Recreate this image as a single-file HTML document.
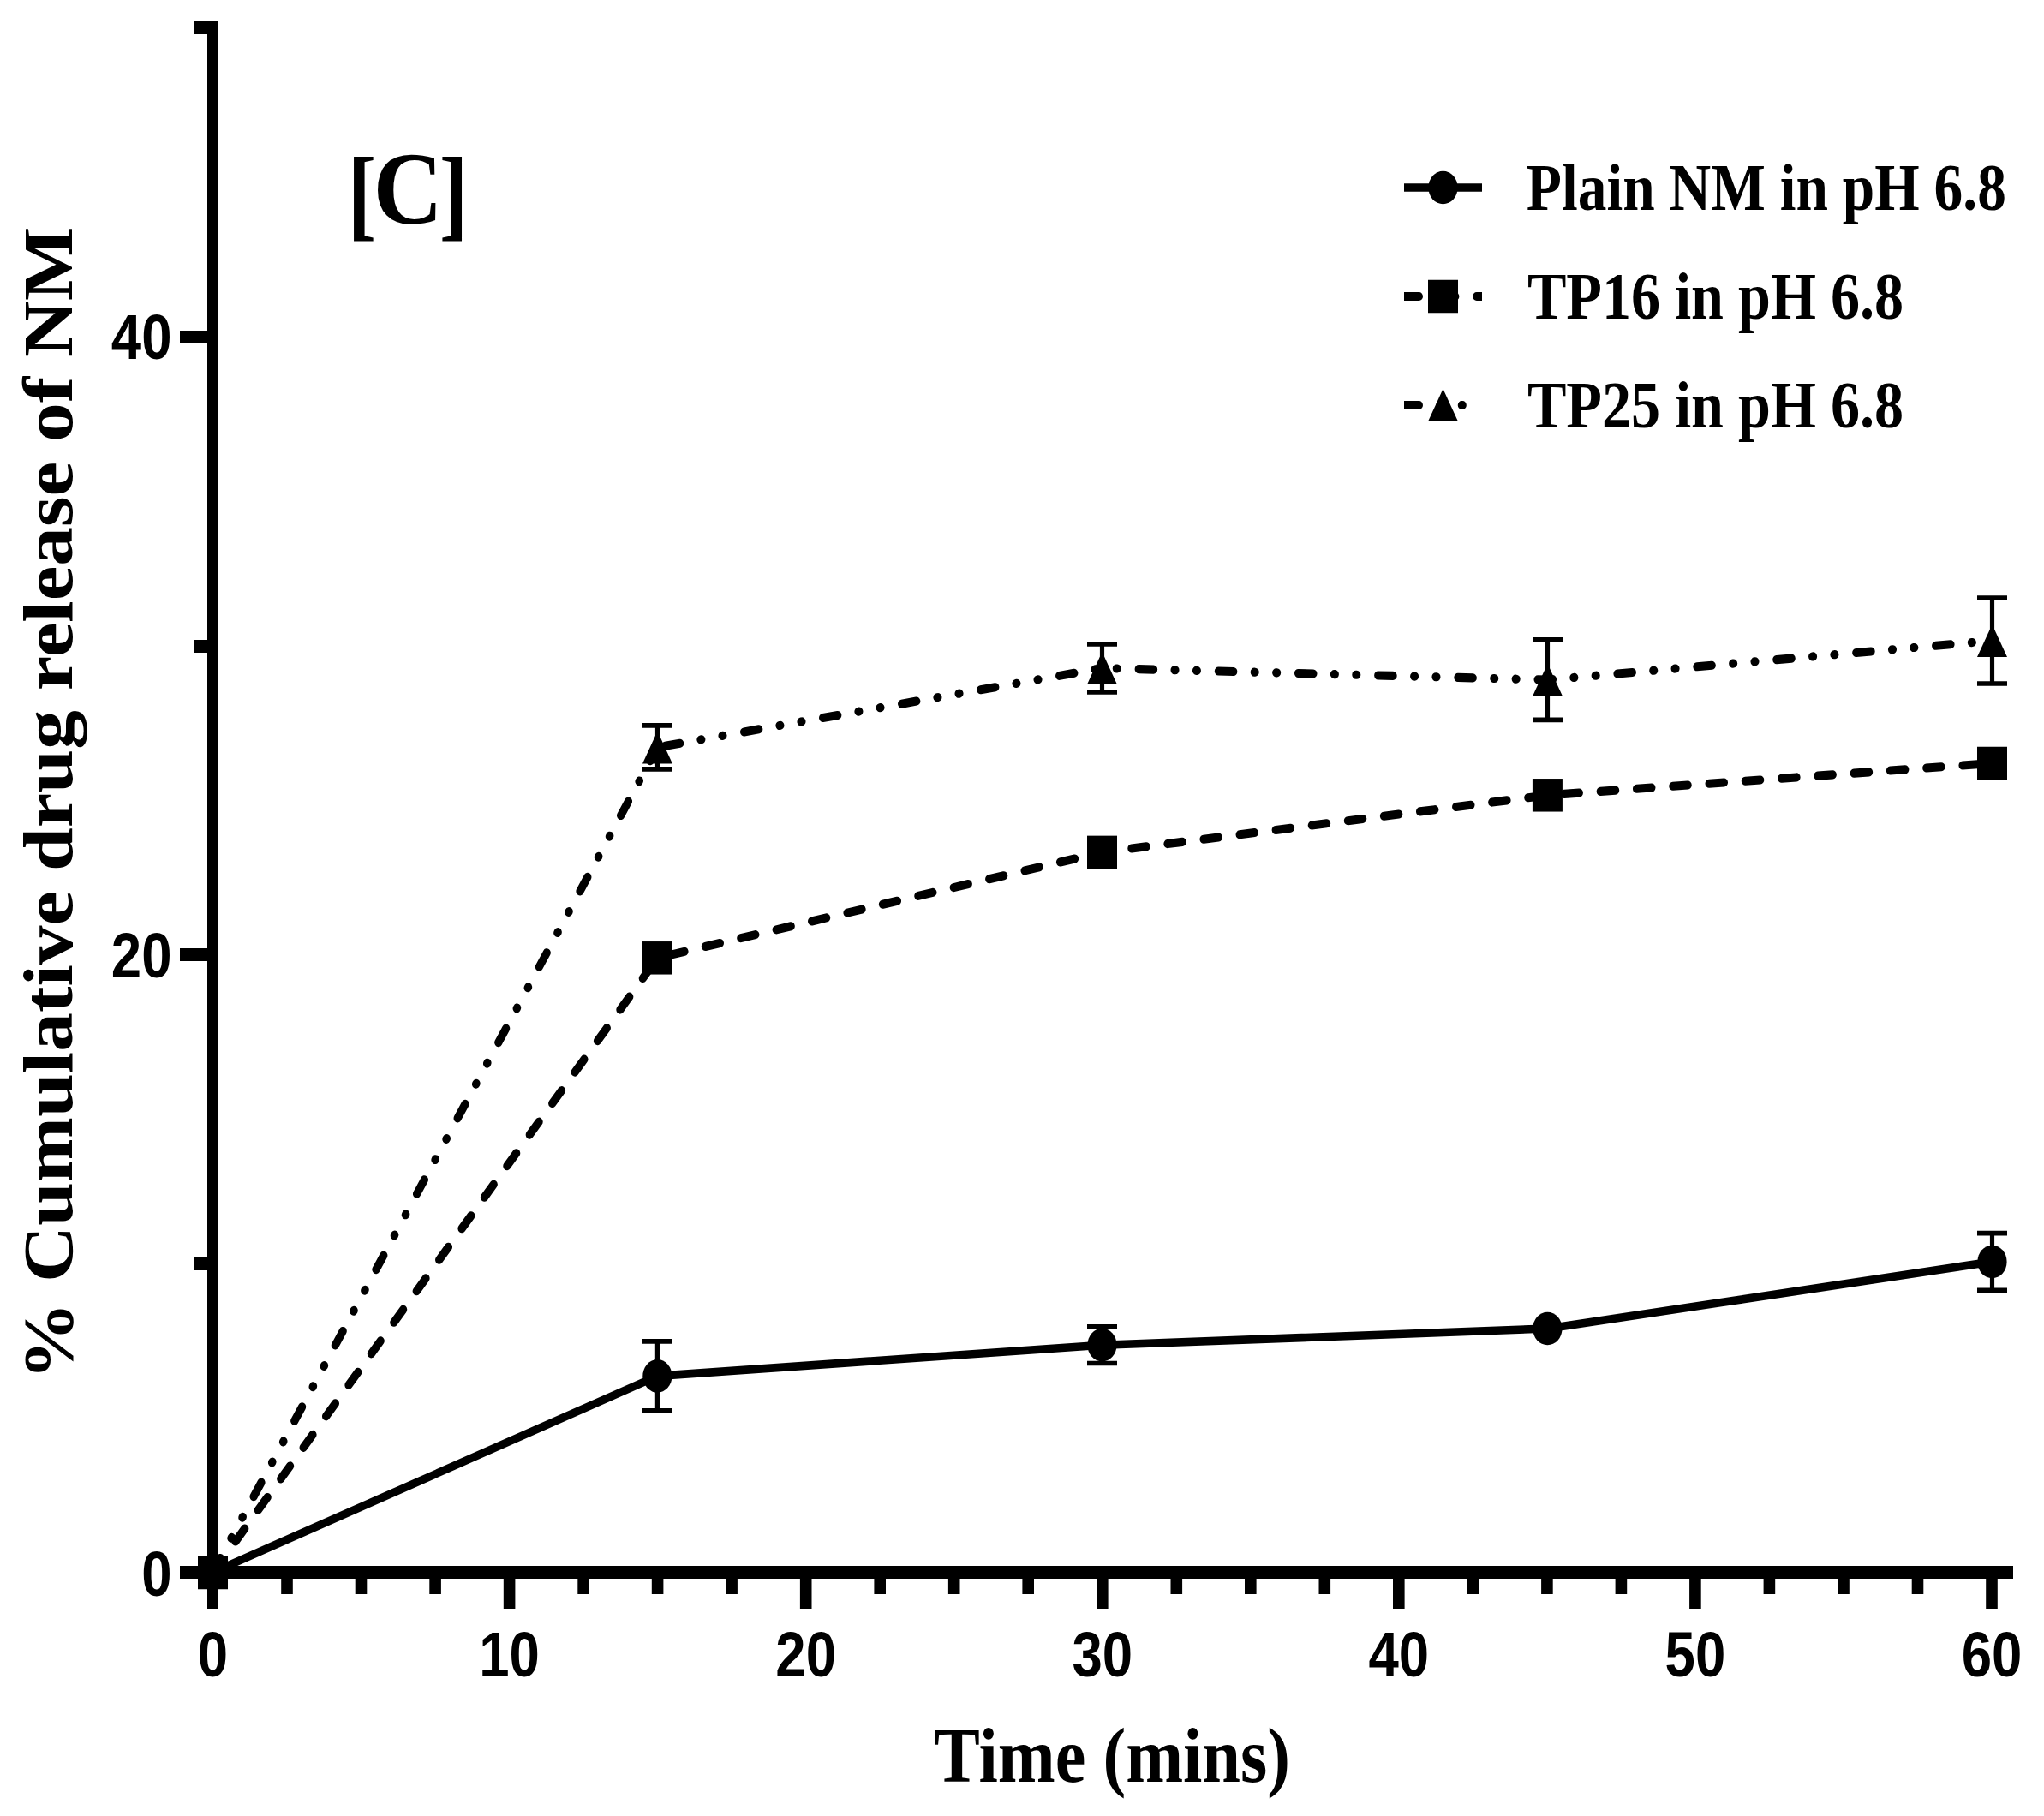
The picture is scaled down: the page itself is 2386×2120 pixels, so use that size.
<!DOCTYPE html>
<html lang="en"><head><meta charset="utf-8"><title>Cumulative drug release of NM</title>
<style>html,body{margin:0;padding:0;background:#fff}svg{display:block}.s{font-family:"Liberation Serif","Times New Roman",serif;font-weight:bold;fill:#000}.dl{stroke-linecap:round}.a{font-family:"Liberation Sans",Arial,sans-serif;font-weight:bold;fill:#000}</style></head><body>
<svg width="2386" height="2120" viewBox="0 0 2386 2120">
<rect width="2386" height="2120" fill="#fff"/>
<g fill="#000" shape-rendering="crispEdges">
<rect x="242" y="25" width="13" height="1853"/>
<rect x="210" y="1828" width="2140" height="15"/>
<rect x="210" y="386" width="32" height="15"/>
<rect x="210" y="1107" width="32" height="15"/>
<rect x="226" y="25" width="16" height="15"/>
<rect x="226" y="747" width="16" height="15"/>
<rect x="226" y="1468" width="16" height="15"/>
<rect x="328.2" y="1843" width="13.6" height="18" shape-rendering="auto"/>
<rect x="414.7" y="1843" width="13.6" height="18" shape-rendering="auto"/>
<rect x="501.3" y="1843" width="13.6" height="18" shape-rendering="auto"/>
<rect x="587.8" y="1843" width="13.6" height="35" shape-rendering="auto"/>
<rect x="674.3" y="1843" width="13.6" height="18" shape-rendering="auto"/>
<rect x="760.8" y="1843" width="13.6" height="18" shape-rendering="auto"/>
<rect x="847.3" y="1843" width="13.6" height="18" shape-rendering="auto"/>
<rect x="933.9" y="1843" width="13.6" height="35" shape-rendering="auto"/>
<rect x="1020.4" y="1843" width="13.6" height="18" shape-rendering="auto"/>
<rect x="1106.9" y="1843" width="13.6" height="18" shape-rendering="auto"/>
<rect x="1193.4" y="1843" width="13.6" height="18" shape-rendering="auto"/>
<rect x="1280.0" y="1843" width="13.6" height="35" shape-rendering="auto"/>
<rect x="1366.5" y="1843" width="13.6" height="18" shape-rendering="auto"/>
<rect x="1453.0" y="1843" width="13.6" height="18" shape-rendering="auto"/>
<rect x="1539.5" y="1843" width="13.6" height="18" shape-rendering="auto"/>
<rect x="1626.0" y="1843" width="13.6" height="35" shape-rendering="auto"/>
<rect x="1712.6" y="1843" width="13.6" height="18" shape-rendering="auto"/>
<rect x="1799.1" y="1843" width="13.6" height="18" shape-rendering="auto"/>
<rect x="1885.6" y="1843" width="13.6" height="18" shape-rendering="auto"/>
<rect x="1972.1" y="1843" width="13.6" height="35" shape-rendering="auto"/>
<rect x="2058.6" y="1843" width="13.6" height="18" shape-rendering="auto"/>
<rect x="2145.2" y="1843" width="13.6" height="18" shape-rendering="auto"/>
<rect x="2231.7" y="1843" width="13.6" height="18" shape-rendering="auto"/>
<rect x="2318.2" y="1843" width="13.6" height="35" shape-rendering="auto"/>
</g>
<g transform="scale(0.907,1)" fill="#000" stroke="#000">
<path d="M846.09 1565.90V1646.90M826.79 1565.90H865.38M826.79 1646.90H865.38" fill="none" stroke-width="5.7"/>
<path d="M1418.41 1548.90V1591.50M1399.12 1548.90H1437.71M1399.12 1591.50H1437.71" fill="none" stroke-width="5.7"/>
<path d="M2563.95 1439.60V1506.40M2544.65 1439.60H2583.24M2544.65 1506.40H2583.24" fill="none" stroke-width="5.7"/>
<path d="M846.20 846.90V897.90M826.90 846.90H865.49M826.90 897.90H865.49" fill="none" stroke-width="5.7"/>
<path d="M1418.41 752.00V808.00M1399.12 752.00H1437.71M1399.12 808.00H1437.71" fill="none" stroke-width="5.7"/>
<path d="M1991.73 746.90V840.40M1972.44 746.90H2011.03M1972.44 840.40H2011.03" fill="none" stroke-width="5.7"/>
<path d="M2563.95 698.00V798.00M2544.65 698.00H2583.24M2544.65 798.00H2583.24" fill="none" stroke-width="5.7"/>
<polyline points="273.98,1835.50 846.09,1606.40 1418.41,1570.20 1991.62,1551.00 2563.95,1473.00" fill="none" stroke-width="9.6" stroke-linejoin="round"/>
<polyline points="273.98,1836.00 846.20,1118.30 1418.41,994.90 1991.62,928.30 2563.95,891.00" fill="none" stroke-width="10.1" stroke-linejoin="round" stroke-dasharray="19.2 27.510" class="dl"/>
<polyline points="273.98,1835.50 846.20,872.40 1418.41,780.00 1991.73,793.65 2563.95,748.00" fill="none" stroke-width="10.1" stroke-linejoin="round" stroke-dasharray="19.2 27.010 1 27.026 1 27.526" class="dl"/>
<ellipse cx="273.98" cy="1835.50" rx="18.85" ry="19.3" stroke="none"/>
<ellipse cx="846.09" cy="1606.40" rx="18.85" ry="19.3" stroke="none"/>
<ellipse cx="1418.41" cy="1570.20" rx="18.85" ry="19.3" stroke="none"/>
<ellipse cx="1991.62" cy="1551.00" rx="18.85" ry="19.3" stroke="none"/>
<ellipse cx="2563.95" cy="1473.00" rx="18.85" ry="19.3" stroke="none"/>
<rect x="254.69" y="1816.75" width="38.59" height="38.5" stroke="none"/>
<rect x="826.90" y="1099.05" width="38.59" height="38.5" stroke="none"/>
<rect x="1399.12" y="975.65" width="38.59" height="38.5" stroke="none"/>
<rect x="1972.33" y="909.05" width="38.59" height="38.5" stroke="none"/>
<rect x="2544.65" y="871.75" width="38.59" height="38.5" stroke="none"/>
<path d="M273.98 1816.50L293.27 1854.50H254.69Z" stroke="none"/>
<path d="M846.20 853.40L865.49 891.40H826.90Z" stroke="none"/>
<path d="M1418.41 761.00L1437.71 799.00H1399.12Z" stroke="none"/>
<path d="M1991.73 774.65L2011.03 812.65H1972.44Z" stroke="none"/>
<path d="M2563.95 729.00L2583.24 767.00H2544.65Z" stroke="none"/>
<clipPath id="lc"><rect x="1807.06" y="150" width="100.33" height="400"/></clipPath>
<path d="M1807.06 219.0H1907.39" fill="none" stroke-width="9.6"/>
<ellipse cx="1857.22" cy="219.0" rx="18.85" ry="19.3" stroke="none"/>
<path d="M1807.06 346.0H1918.41" fill="none" stroke-width="10.1" stroke-dasharray="19.2 27.510" class="dl" clip-path="url(#lc)"/>
<rect x="1837.93" y="326.75" width="38.59" height="38.5" stroke="none"/>
<path d="M1807.06 473.0H1904.08" fill="none" stroke-width="10.1" stroke-dasharray="19.2 27.010 1 27.026 1 27.526" class="dl" clip-path="url(#lc)"/>
<path d="M1857.22 454.0L1876.52 492.0H1837.93Z" stroke="none"/>
</g>
<g><text class="s" transform="translate(405.48,265.0) scale(0.86,1)" font-size="118.1">[</text><text class="s" transform="translate(435.48,260.5) scale(0.9365,1)" font-size="120.5">C</text><text class="s" transform="translate(512.69,265.0) scale(0.86,1)" font-size="118.1">]</text></g>
<text class="s" transform="translate(1781.80,244.50) scale(0.8601,1)" font-size="78.4" text-anchor="start">Plain NM in pH 6.8</text>
<text class="s" transform="translate(1782.90,371.90) scale(0.8693,1)" font-size="78.4" text-anchor="start">TP16 in pH 6.8</text>
<text class="s" transform="translate(1782.90,498.70) scale(0.8693,1)" font-size="78.4" text-anchor="start">TP25 in pH 6.8</text>
<text class="s" transform="translate(1090.30,2079.80) scale(0.8847,1)" font-size="90.8" text-anchor="start">Time (mins)</text>
<text class="s" transform="translate(84.1,1611.3) rotate(-90) scale(0.9144,0.8318)" font-size="100">% Cumulative drug release of NM</text>
<text class="a" transform="translate(248.50,1957.00) scale(0.8650,1)" font-size="73.5" text-anchor="middle">0</text>
<text class="a" transform="translate(594.58,1957.00) scale(0.8650,1)" font-size="73.5" text-anchor="middle">10</text>
<text class="a" transform="translate(940.67,1957.00) scale(0.8650,1)" font-size="73.5" text-anchor="middle">20</text>
<text class="a" transform="translate(1286.75,1957.00) scale(0.8650,1)" font-size="73.5" text-anchor="middle">30</text>
<text class="a" transform="translate(1632.83,1957.00) scale(0.8650,1)" font-size="73.5" text-anchor="middle">40</text>
<text class="a" transform="translate(1978.92,1957.00) scale(0.8650,1)" font-size="73.5" text-anchor="middle">50</text>
<text class="a" transform="translate(2325.00,1957.00) scale(0.8650,1)" font-size="73.5" text-anchor="middle">60</text>
<text class="a" transform="translate(200.50,419.00) scale(0.8650,1)" font-size="73.5" text-anchor="end">40</text>
<text class="a" transform="translate(200.50,1141.00) scale(0.8650,1)" font-size="73.5" text-anchor="end">20</text>
<text class="a" transform="translate(200.50,1862.50) scale(0.8650,1)" font-size="73.5" text-anchor="end">0</text>
</svg></body></html>
